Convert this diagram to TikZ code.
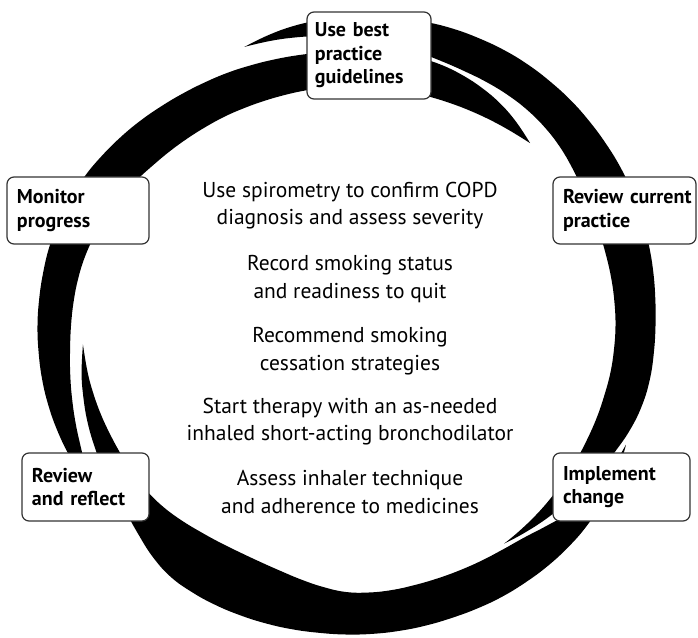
\documentclass[tikz,border=0pt]{standalone}
\usepackage{fontspec}
\setmainfont{PT Sans}
\begin{document}
\begin{tikzpicture}[x=1pt,y=1pt,
  swoosh/.style={fill=black},
  stage/.style={draw=black!80, line width=1.2pt, fill=white, rounded corners=7pt,
    inner sep=0pt, align=left, font=\fontsize{20}{23.5}\selectfont\bfseries},
  info/.style={anchor=base, inner sep=0pt, font=\fontsize{21.5}{27}\selectfont}
]
\useasboundingbox (-346,-311) rectangle (352,326);

% stroke: top -> right -> implement (tail inside)
\fill[swoosh] plot[smooth, tension=0.7] coordinates {(110:297) (105:301) (100:304.5) (95:307) (90:309.5) (85:311.5) (80:313) (75:314.5) (70:316) (65:317) (60:318) (55:318.5) (50:318.5) (45:318.5) (40:318) (35:317.5) (30:317) (25:316) (20:315) (15:313.5) (10:312) (5:310.5) (0:309.5) (-5:309) (-10:308.5) (-15:306.5) (-20:302.5) (-25:297) (-30:292) (-35:287) (-40:281.5) (-45:277) (-50:272.5) (-54:269)}
  -- plot[smooth, tension=0.7] coordinates {(-54:269) (-50:268.5) (-45:268) (-40:267.5) (-35:267) (-30:266.5) (-25:266.5) (-20:267) (-15:267.5) (-10:268.5) (-5:269) (0:269.5) (5:269.5) (10:269.5) (15:269.5) (20:270) (25:271) (30:273) (35:276) (40:279) (45:281) (50:282) (55:282) (60:281.5) (65:281) (70:281.5) (75:283) (80:285) (85:287) (90:289) (95:291) (100:293) (105:295) (110:297)} -- cycle;

% stroke: implement -> bottom -> review and reflect (tail above)
\fill[swoosh] plot[smooth, tension=0.7] coordinates {(-23:304) (-25:305.5) (-30:308) (-35:311) (-40:313) (-45:313.5) (-50:313.5) (-55:313) (-60:312.5) (-65:311.5) (-70:310.5) (-75:310) (-80:309.5) (-85:309) (-90:308.5) (-95:308) (-100:308) (-105:308) (-110:308) (-115:308) (-120:307.5) (-125:306) (-130:301) (-135:294) (-140:288) (-145:284.5) (-150:281.5) (-155:278.5) (-160:275.5) (-165:272) (-170:268.5) (-176:263.7)}
  -- plot[smooth, tension=0.7] coordinates {(-176:263.7) (-170:262.5) (-165:261.5) (-160:260.5) (-155:259.5) (-150:259) (-145:259) (-140:258.5) (-135:257) (-130:254.5) (-125:252) (-120:250.5) (-115:250) (-110:251) (-105:253.5) (-100:257.5) (-95:262) (-90:266) (-85:267.5) (-80:268) (-75:268) (-70:268.5) (-65:269.5) (-60:271) (-55:273) (-50:276.5) (-45:283) (-40:291) (-35:297.5) (-30:301.5) (-25:303) (-23:304)} -- cycle;

% stroke: review and reflect -> monitor -> top (tail right)
\fill[swoosh] plot[smooth, tension=0.7] coordinates {(211:298) (208:302.5) (205:305.5) (200:307) (195:308) (190:308.5) (185:308.5) (180:308.5) (175:308) (170:307.5) (165:307) (160:305.5) (155:303.5) (150:301) (145:297.5) (140:294) (135:290.5) (130:287) (125:284) (120:281.5) (115:279.5) (110:277.5) (105:276) (100:275) (95:274.5) (90:275) (85:276) (80:277) (75:278) (70:278) (65:276.5) (60:274) (55:270.5) (50:265.5) (44.8:259.5)}
  -- plot[smooth, tension=0.7] coordinates {(44.8:259.5) (50:255) (55:251.5) (60:248.5) (65:246) (70:244) (75:242.5) (80:241) (85:240) (90:239.5) (95:239) (100:239) (105:239) (110:239.5) (115:240.5) (120:242) (125:243.5) (130:245.5) (135:248) (140:251) (145:255) (150:259) (155:263) (160:267) (165:270) (170:272) (175:273.5) (180:275) (185:277) (190:280) (195:283.5) (200:287.5) (205:292) (208:295.5) (211:298)} -- cycle;

% stage boxes
\node[stage, minimum width=124, minimum height=87, text width=108] (top) at (23,270.5) {Use best\\practice\\guidelines};
\node[stage, minimum width=143, minimum height=67, text width=123] (review) at (278.5,115.5) {\mbox{Review current}\\practice};
\node[stage, minimum width=137, minimum height=68, text width=117] (implement) at (275.5,-161) {Implement\\change};
\node[stage, minimum width=127, minimum height=68, text width=107] (reflect) at (-260.5,-161) {Review\\\mbox{and reflect}};
\node[stage, minimum width=142, minimum height=67, text width=122] (monitor) at (-268,115.5) {Monitor\\progress};

% centre text
\node[info] (l1) at (4,128) {Use spirometry to confirm COPD};
\node[info] (l2) at (4,101) {diagnosis and assess severity};
\node[info] (l3) at (4,56) {Record smoking status};
\node[info] (l4) at (4,28) {and readiness to quit};
\node[info] (l5) at (4,-16) {Recommend smoking};
\node[info] (l6) at (4,-44) {cessation strategies};
\node[info] (l7) at (4,-87) {Start therapy with an as-needed};
\node[info] (l8) at (4,-114) {inhaled short-acting bronchodilator};
\node[info] (l9) at (4,-159) {Assess inhaler technique};
\node[info] (l10) at (4,-187) {and adherence to medicines};
\end{tikzpicture}
\end{document}
